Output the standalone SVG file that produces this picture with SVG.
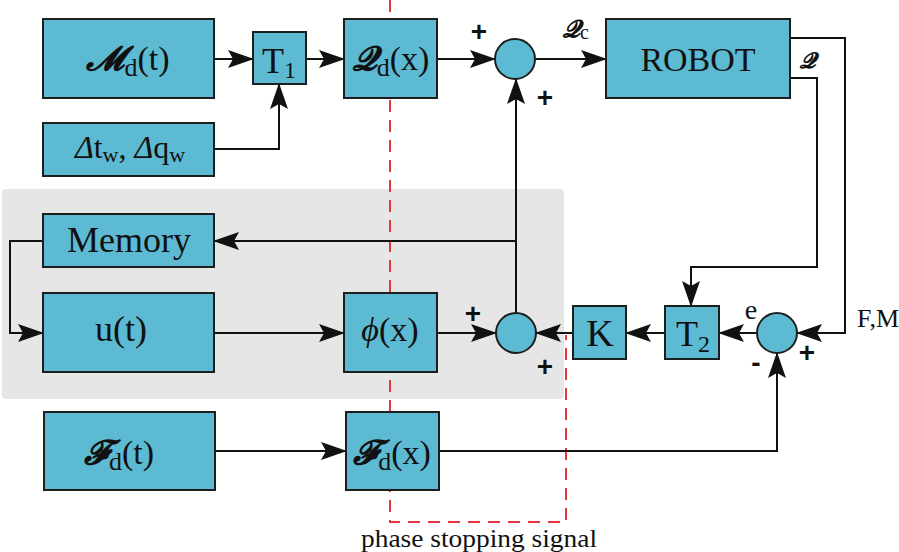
<svg xmlns="http://www.w3.org/2000/svg" width="899" height="552" viewBox="0 0 899 552">
<style>
.box{fill:#5CBAD2;stroke:#1e1e1e;stroke-width:2}
.sum{fill:#5CBAD2;stroke:#1e1e1e;stroke-width:2}
.t{font-family:"Liberation Serif","DejaVu Serif",serif;fill:#111;text-anchor:middle}
.sc{font-family:"DejaVu Serif","DejaVu Sans","Liberation Serif",serif;font-style:italic;font-weight:bold}
.sign{font-family:"Liberation Sans",Arial,sans-serif;font-weight:bold;font-size:28px;fill:#111;text-anchor:middle}
.c{fill:none;stroke:#111;stroke-width:2}
.red{fill:none;stroke:#E8333A;stroke-width:2;stroke-dasharray:12 8}
</style>
<defs>
<marker id="ah" viewBox="0 0 26 18" refX="25" refY="9" markerWidth="26" markerHeight="18" markerUnits="userSpaceOnUse" orient="auto">
<path d="M0,0 L26,9 L0,18 L5,9 Z" fill="#111"/>
</marker>
</defs>
<rect x="2" y="189" width="562" height="210" rx="4" fill="#E6E6E6"/>
<path class="red" d="M390,0 V522 H566 V335"/>
<g id="connectors">
<path class="c" d="M214,59 H253" marker-end="url(#ah)"/>
<path class="c" d="M214,149 H279 V84" marker-end="url(#ah)"/>
<path class="c" d="M306,59 H344" marker-end="url(#ah)"/>
<path class="c" d="M437,59 H495" marker-end="url(#ah)"/>
<path class="c" d="M535,59 H606" marker-end="url(#ah)"/>
<path class="c" d="M790,38 H845 V333 H797" marker-end="url(#ah)"/>
<path class="c" d="M790,78 H817 V267 H691 V306" marker-end="url(#ah)"/>
<path class="c" d="M757,333 H719" marker-end="url(#ah)"/>
<path class="c" d="M665,333 H626" marker-end="url(#ah)"/>
<path class="c" d="M573,333 H536" marker-end="url(#ah)"/>
<path class="c" d="M516,313 V79" marker-end="url(#ah)"/>
<path class="c" d="M516,241 H214" marker-end="url(#ah)"/>
<path class="c" d="M43,241 H10 V333 H43" marker-end="url(#ah)"/>
<path class="c" d="M214,333 H344" marker-end="url(#ah)"/>
<path class="c" d="M437,333 H496" marker-end="url(#ah)"/>
<path class="c" d="M215,451 H346" marker-end="url(#ah)"/>
<path class="c" d="M439,451 H777 V353" marker-end="url(#ah)"/>
</g>
<g id="Md">
<rect class="box" x="43" y="19" width="171" height="79"/>
<text class="t" x="128" y="70" font-size="34"><tspan class="sc">𝓜</tspan><tspan font-size="26" dy="6">d</tspan><tspan dy="-6">(t)</tspan></text>
</g>
<g id="T1">
<rect class="box" x="253" y="32" width="53" height="52"/>
<text class="t" x="279" y="73" font-size="36">T<tspan font-size="24" dy="5">1</tspan></text>
</g>
<g id="Qd">
<rect class="box" x="344" y="19" width="93" height="79"/>
<text class="t" x="391" y="70" font-size="34"><tspan class="sc">𝓠</tspan><tspan font-size="26" dy="6">d</tspan><tspan dy="-6">(x)</tspan></text>
</g>
<g id="dw">
<rect class="box" x="43" y="123" width="171" height="53"/>
<text class="t" x="130" y="158" font-size="32"><tspan font-style="italic">Δ</tspan>t<tspan font-size="22" dy="4">w</tspan><tspan dy="-4">, </tspan><tspan font-style="italic">Δ</tspan>q<tspan font-size="22" dy="4">w</tspan></text>
</g>
<g id="sum1">
<circle class="sum" cx="515" cy="59" r="20"/>
</g>
<g id="robot">
<rect class="box" x="606" y="19" width="184" height="79"/>
<text class="t" x="698" y="71" font-size="34">ROBOT</text>
</g>
<g id="memory">
<rect class="box" x="43" y="214" width="171" height="53"/>
<text class="t" x="129" y="252" font-size="36">Memory</text>
</g>
<g id="ut">
<rect class="box" x="43" y="293" width="171" height="79"/>
<text class="t" x="121" y="341" font-size="36">u(t)</text>
</g>
<g id="phi">
<rect class="box" x="344" y="293" width="93" height="79"/>
<text class="t" x="390" y="341" font-size="34"><tspan font-style="italic">ϕ</tspan>(x)</text>
</g>
<g id="sum2">
<circle class="sum" cx="516" cy="333" r="20"/>
</g>
<g id="K">
<rect class="box" x="573" y="306" width="53" height="53"/>
<text class="t" x="600" y="346" font-size="38">K</text>
</g>
<g id="T2">
<rect class="box" x="665" y="306" width="54" height="53"/>
<text class="t" x="693" y="346" font-size="36">T<tspan font-size="24" dy="6">2</tspan></text>
</g>
<g id="sum3">
<circle class="sum" cx="777" cy="333" r="20"/>
</g>
<g id="Fdt">
<rect class="box" x="44" y="412" width="171" height="78"/>
<text class="t" x="119" y="464" font-size="34"><tspan class="sc">𝓕</tspan><tspan font-size="26" dy="6">d</tspan><tspan dy="-6">(t)</tspan></text>
</g>
<g id="Fdx">
<rect class="box" x="346" y="412" width="93" height="78"/>
<text class="t" x="392" y="464" font-size="34"><tspan class="sc">𝓕</tspan><tspan font-size="26" dy="6">d</tspan><tspan dy="-6">(x)</tspan></text>
</g>
<g id="labels">
<text class="sign" x="479" y="41">+</text>
<text class="sign" x="545" y="107">+</text>
<text class="sign" x="473" y="323">+</text>
<text class="sign" x="545" y="376">+</text>
<text class="sign" x="807" y="362">+</text>
<text class="sign" x="756" y="372">-</text>
<text class="t" x="576" y="37" font-size="24"><tspan class="sc">𝓠</tspan><tspan font-size="20" font-style="normal" font-weight="normal" dy="2">c</tspan></text>
<text class="t" x="808" y="68" font-size="22"><tspan class="sc">𝓠</tspan></text>
<text class="t" x="751" y="319" font-size="28">e</text>
<text class="t" x="878" y="327" font-size="26">F,M</text>
<text class="t" x="479" y="547" font-size="26" textLength="236" lengthAdjust="spacingAndGlyphs">phase stopping signal</text>
</g>
</svg>
